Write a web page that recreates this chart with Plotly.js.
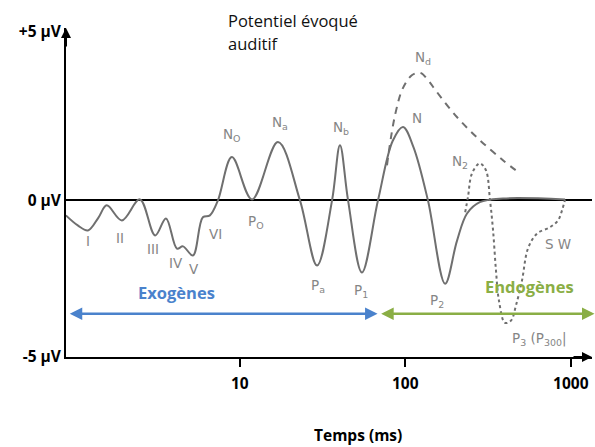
<!DOCTYPE html>
<html>
<head>
<meta charset="utf-8">
<script src="https://cdn.plot.ly/plotly-3.0.1.min.js"></script>
<style>html,body{margin:0;padding:0;background:#fff}#chart{width:595px;height:447px}</style>
</head>
<body>
<div id="chart"></div>
<script>
// Solid waveform (time in ms, amplitude in µV)
const solidT = [0.89, 1.05, 1.21, 1.4, 1.57, 1.94, 2.49, 3.08, 3.58, 4.17, 4.54, 5.21, 5.98, 6.6, 7.38, 8.96, 11.85, 17.0, 23.1, 29.3, 36.1, 40.3, 45.1, 54.7, 68.4, 84, 96.9, 112, 137, 174, 205, 236, 282, 389, 923];
const solidV = [-0.48, -0.8, -0.96, -0.55, -0.16, -0.64, 0.03, -1.12, -0.58, -1.54, -1.47, -1.76, -0.54, -0.48, 0.0, 1.38, 0.03, 1.86, 0.0, -2.08, 0.0, 1.76, 0.0, -2.3, 0.0, 1.9, 2.34, 1.7, 0.0, -2.66, -1.3, -0.42, -0.06, 0.06, 0.03];
// Dashed Nd curve
const ndT = [77.5, 86.7, 96.9, 110, 123, 137, 155, 205, 282, 389, 493];
const ndV = [1.12, 2.72, 3.59, 4.0, 4.07, 3.84, 3.46, 2.66, 1.92, 1.28, 0.86];
// Dotted P300 curve
const p3T = [230, 239, 253, 282, 307, 325, 339, 353, 368, 400, 435, 466, 507, 551, 625, 748, 837, 885, 923];
const p3V = [-0.38, 0.1, 0.86, 1.18, 0.96, 0.0, -0.96, -2.24, -3.2, -3.91, -3.84, -3.36, -2.56, -1.54, -1.06, -0.86, -0.64, -0.32, 0.03];
// Ticks
const xTickVals = [10, 100, 1000];
const xTickText = ['10', '100', '1000'];
const yTickVals = [-5, 0, 5.4];
const yTickText = ['-5 µV', '0 µV', '+5 µV'];
// Wave labels: [text, time ms, µV]
const waveLabels = [
  ['I', 1.21, -1.3], ['II', 1.89, -1.2], ['III', 2.99, -1.56], ['IV', 4.12, -2.0], ['V', 5.3, -2.2],
  ['VI', 7.18, -1.08], ['N<sub>O</sub>', 8.96, 2.08], ['P<sub>O</sub>', 12.6, -0.68], ['N<sub>a</sub>', 17.5, 2.46],
  ['P<sub>a</sub>', 29.6, -2.72], ['N<sub>b</sub>', 40.8, 2.30], ['P<sub>1</sub>', 54.0, -2.9], ['N', 118, 2.62],
  ['N<sub>d</sub>', 128, 4.55], ['N<sub>2</sub>', 214, 1.22], ['P<sub>2</sub>', 155, -3.22],
  ['P<sub>3</sub> (P<sub>300</sub>|', 640, -4.42], ['S W', 837, -1.38]
];

const gray = '#6f6f6f';
const labelGray = '#858585';
const blue = '#4a82cc';
const green = '#8aae45';
const L = v => Math.log10(v);

const traces = [
  {x: solidT, y: solidV, type: 'scatter', mode: 'lines', line: {color: gray, width: 2, shape: 'spline', smoothing: 1}, hoverinfo: 'skip'},
  {x: ndT, y: ndV, type: 'scatter', mode: 'lines', line: {color: gray, width: 2, shape: 'spline', dash: '7px,6px'}, hoverinfo: 'skip'},
  {x: p3T, y: p3V, type: 'scatter', mode: 'lines', line: {color: gray, width: 2, shape: 'spline', dash: 'dot'}, hoverinfo: 'skip'}
];

const ann = waveLabels.map(w => ({
  xref: 'x', yref: 'y', x: L(w[1]), y: w[2], text: w[0], showarrow: false,
  font: {family: 'DejaVu Sans', size: 13.5, color: labelGray}
}));

ann.push(
  {xref: 'paper', yref: 'paper', x: 0.304, y: 1.064, xanchor: 'left', yanchor: 'top', showarrow: false,
   text: 'Potentiel évoqué', font: {family: 'Open Sans', size: 16.5, color: '#111'}},
  {xref: 'paper', yref: 'paper', x: 0.304, y: 0.993, xanchor: 'left', yanchor: 'top', showarrow: false,
   text: 'auditif', font: {family: 'Open Sans', size: 16.5, color: '#111'}},
  // axis arrowheads
  {xref: 'paper', yref: 'paper', x: 0, y: 1.0, ax: 0, ay: 20, showarrow: true, arrowhead: 2, arrowsize: 1, arrowwidth: 2, arrowcolor: '#000', text: ''},
  {xref: 'paper', yref: 'paper', x: 1.0, y: 0, ax: -20, ay: 0, showarrow: true, arrowhead: 2, arrowsize: 1, arrowwidth: 2, arrowcolor: '#000', text: ''},
  // Exogènes / Endogènes
  {xref: 'x', yref: 'y', axref: 'x', ayref: 'y', x: L(68), y: -3.62, ax: L(0.92), ay: -3.62, text: '', showarrow: true,
   arrowside: 'end+start', arrowhead: 2, startarrowhead: 2, arrowsize: 1, startarrowsize: 1, arrowwidth: 2.5, arrowcolor: blue},
  {xref: 'x', yref: 'y', axref: 'x', ayref: 'y', x: L(1390), y: -3.62, ax: L(70), ay: -3.62, text: '', showarrow: true,
   arrowside: 'end+start', arrowhead: 2, startarrowhead: 2, arrowsize: 1, startarrowsize: 1, arrowwidth: 2.5, arrowcolor: green},
  {xref: 'x', yref: 'y', x: L(4.17), y: -2.94, text: 'Exogènes', showarrow: false,
   font: {family: 'Open Sans', size: 16.5, weight: 'bold', color: blue}},
  {xref: 'x', yref: 'y', x: L(565), y: -2.75, text: 'Endogènes', showarrow: false,
   font: {family: 'Open Sans', size: 16.5, weight: 'bold', color: green}},
  {xref: 'paper', yref: 'paper', x: 0.555, y: -0.236, xanchor: 'center', yanchor: 'middle', text: 'Temps (ms)', showarrow: false,
   font: {family: 'Open Sans', size: 15.5, weight: 'bold', color: '#000'}}
);

const layout = {
  width: 595, height: 447,
  margin: {l: 66, r: 3, t: 28, b: 90},
  paper_bgcolor: '#fff', plot_bgcolor: '#fff',
  showlegend: false,
  xaxis: {
    type: 'log', range: [-0.050, 3.128],
    showline: true, linecolor: '#000', linewidth: 2,
    showgrid: false, zeroline: false,
    tickvals: xTickVals, ticktext: xTickText,
    ticks: 'outside', ticklen: 8, tickwidth: 2, tickcolor: '#000',
    ticklabelstandoff: 3,
    tickfont: {family: 'Open Sans', size: 15.5, weight: 'bold', color: '#000'}
  },
  xaxis2: {
    type: 'log', range: [-0.050, 3.128], overlaying: 'x', side: 'bottom', anchor: 'y',
    showline: false, showgrid: false, zeroline: false,
    tickvals: xTickVals, ticks: 'inside', ticklen: 9, tickwidth: 2, tickcolor: '#000',
    showticklabels: false
  },
  yaxis: {
    range: [-5, 5.5],
    showline: true, linecolor: '#000', linewidth: 2,
    showgrid: false,
    zeroline: true, zerolinecolor: '#000', zerolinewidth: 2,
    tickvals: yTickVals, ticktext: yTickText, ticks: '',
    tickfont: {family: 'Open Sans', size: 15.5, weight: 'bold', color: '#000'}
  },
  annotations: ann
};

Plotly.newPlot('chart', traces, layout, {staticPlot: true, displayModeBar: false});
</script>
</body>
</html>
